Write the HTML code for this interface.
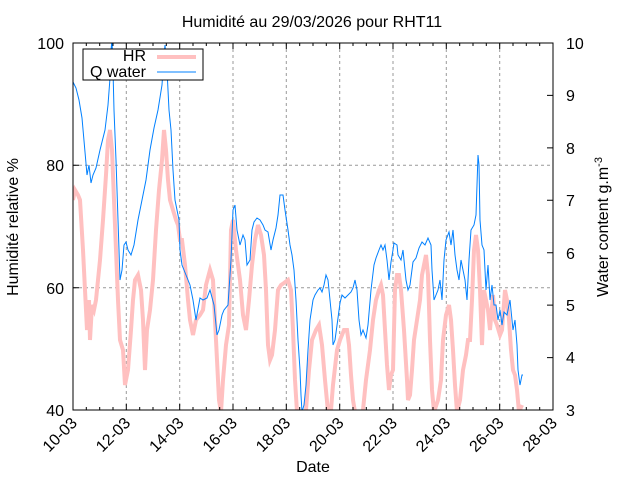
<!DOCTYPE html>
<html><head><meta charset="utf-8"><style>
body{margin:0;background:#fff}
svg{display:block}
text{font-family:"Liberation Sans",sans-serif;font-size:16px;fill:#000}
</style></head><body>
<svg width="640" height="480" viewBox="0 0 640 480">
<defs><clipPath id="c"><rect x="73" y="43" width="480" height="367"/></clipPath></defs>
<g stroke="#999" stroke-dasharray="3,3" stroke-width="1">
<line x1="126.3" y1="43" x2="126.3" y2="410"/><line x1="179.7" y1="43" x2="179.7" y2="410"/><line x1="233" y1="43" x2="233" y2="410"/><line x1="286.3" y1="43" x2="286.3" y2="410"/><line x1="339.7" y1="43" x2="339.7" y2="410"/><line x1="393" y1="43" x2="393" y2="410"/><line x1="446.3" y1="43" x2="446.3" y2="410"/><line x1="499.7" y1="43" x2="499.7" y2="410"/>
<line x1="73" y1="165.3" x2="553" y2="165.3"/><line x1="73" y1="287.7" x2="553" y2="287.7"/>
</g>
<g clip-path="url(#c)" fill="none" stroke-linejoin="miter">
<polyline stroke="#ffc0c0" stroke-width="4" points="73,200 75,190 78,195 80,200 83,250 85,290 87,330 89,300 90,340 92,305 94,310 96,300 98,280 100,260 103,220 106,175 108,140 110,130 112,150 114,200 116,250 118,300 120,340 123,350 125,385 128,370 131,330 133,300 135,280 138,275 141,290 143,320 145,370 147,330 150,310 153,280 156,230 159,190 162,160 164,130 166,150 168,180 170,200 173,210 176,220 178,225 180,240 182,240 185,265 188,300 190,320 193,335 196,320 200,315 203,310 206,285 210,270 213,280 215,320 217,360 219,400 221,412 223,380 226,345 229,325 231,230 233,220 236,250 240,280 243,315 246,330 249,300 252,265 255,240 258,225 261,235 264,255 266,290 268,345 270,360 272,355 275,330 278,290 281,285 284,283 288,280 291,290 293,330 295,380 297,412 303,415 306,410 309,370 312,340 316,330 319,325 322,345 325,380 328,412 331,410 333,385 337,350 340,340 344,330 347,330 349,345 351,375 353,400 355,412 360,415 363,410 366,380 370,350 373,320 376,300 379,290 381,285 383,295 385,330 387,365 389,390 391,375 393,370 395,290 397,275 399,275 401,290 404,330 407,380 408,400 410,395 412,370 414,340 417,320 420,300 422,275 424,265 426,255 428,275 430,340 432,390 434,412 438,400 441,380 443,340 446,315 449,305 451,320 453,350 455,385 457,412 460,400 463,370 466,355 468,340 470,340 472,300 474,250 476,235 478,250 480,290 482,345 484,290 486,300 488,310 490,330 493,295 495,320 497,325 500,335 502,330 505,290 507,300 509,320 511,350 513,370 515,375 517,390 519,412 522,405"/>
<polyline stroke="#0080ff" stroke-width="1" points="73,82 76,88 79,100 82,118 85,152 87,175 89,165 91,183 93,175 96,168 100,150 105,130 108,105 110,78 111,50 112,40 113,70 114,110 116,160 118,220 120,280 122,270 124,245 126,242 128,250 131,255 134,245 138,220 142,200 146,180 150,150 154,128 158,110 162,85 164,55 165,45 167,70 169,110 171,130 173,170 175,200 177,210 179,220 180,250 182,265 186,275 190,285 193,300 196,320 200,298 203,300 207,298 210,290 214,305 217,335 219,330 222,315 224,310 228,305 231,260 233,210 235,205 237,230 240,245 243,235 245,240 247,265 250,260 252,230 254,222 257,218 260,220 263,225 265,230 268,232 271,250 273,240 276,228 278,215 280,195 283,195 285,210 288,230 290,245 292,255 294,270 296,300 298,340 300,370 301,395 302,412 304,405 306,385 308,350 310,320 313,300 315,295 318,290 320,288 322,292 324,285 326,275 328,280 330,300 332,320 333,345 335,340 338,318 340,303 342,295 345,298 348,295 351,292 353,288 355,280 357,290 359,320 361,335 363,330 366,338 368,325 371,290 374,265 376,258 379,250 381,245 383,250 385,245 387,260 389,280 391,262 393,250 394,243 397,245 398,255 401,260 403,250 406,280 408,290 410,285 413,262 416,258 419,248 422,242 425,245 428,238 431,245 432,270 434,300 436,295 438,290 440,280 442,300 444,260 446,240 449,232 451,245 453,230 455,255 457,270 459,280 461,260 463,270 465,280 467,300 469,260 471,230 474,225 476,215 477,185 478,155 479,165 480,220 482,245 484,250 486,290 488,265 490,300 492,285 494,305 496,305 498,320 500,310 502,325 504,312 507,315 510,300 513,330 515,320 517,345 518,370 520,385 522,375 523,375"/>
</g>
<rect x="73" y="43" width="480" height="367" fill="none" stroke="#000" stroke-width="1"/>
<g stroke="#000">
<path d="M73,43v367M126.3,43v6M179.7,43v6M233,43v6M286.3,43v6M339.7,43v6M393,43v6M446.3,43v6M499.7,43v6M126.3,410v-6M179.7,410v-6M233,410v-6M286.3,410v-6M339.7,410v-6M393,410v-6M446.3,410v-6M499.7,410v-6"/>
<path d="M86.3,43v3M99.7,43v3M113,43v3M139.7,43v3M153,43v3M166.3,43v3M193,43v3M206.3,43v3M219.7,43v3M246.3,43v3M259.7,43v3M273,43v3M299.7,43v3M313,43v3M326.3,43v3M353,43v3M366.3,43v3M379.7,43v3M406.3,43v3M419.7,43v3M433,43v3M459.7,43v3M473,43v3M486.3,43v3M513,43v3M526.3,43v3M539.7,43v3"/>
<path d="M86.3,410v-3M99.7,410v-3M113,410v-3M139.7,410v-3M153,410v-3M166.3,410v-3M193,410v-3M206.3,410v-3M219.7,410v-3M246.3,410v-3M259.7,410v-3M273,410v-3M299.7,410v-3M313,410v-3M326.3,410v-3M353,410v-3M366.3,410v-3M379.7,410v-3M406.3,410v-3M419.7,410v-3M433,410v-3M459.7,410v-3M473,410v-3M486.3,410v-3M513,410v-3M526.3,410v-3M539.7,410v-3"/>
<path d="M73,165.3h6M73,287.7h6M553,95.4h-6M553,147.9h-6M553,200.3h-6M553,252.7h-6M553,305.1h-6M553,357.6h-6"/>
</g>
<text x="312" y="27" text-anchor="middle">Humidité au 29/03/2026 pour RHT11</text>
<g text-anchor="end"><text x="64" y="49">100</text><text x="64" y="171">80</text><text x="64" y="294">60</text><text x="64" y="416">40</text></g>
<g text-anchor="start"><text x="566" y="49">10</text><text x="566" y="101">9</text><text x="566" y="154">8</text><text x="566" y="206">7</text><text x="566" y="259">6</text><text x="566" y="311">5</text><text x="566" y="363">4</text><text x="566" y="416">3</text></g>
<g text-anchor="end">
<text transform="translate(78,424) rotate(-45)">10-03</text><text transform="translate(131.3,424) rotate(-45)">12-03</text><text transform="translate(184.7,424) rotate(-45)">14-03</text><text transform="translate(238,424) rotate(-45)">16-03</text><text transform="translate(291.3,424) rotate(-45)">18-03</text><text transform="translate(344.7,424) rotate(-45)">20-03</text><text transform="translate(398,424) rotate(-45)">22-03</text><text transform="translate(451.3,424) rotate(-45)">24-03</text><text transform="translate(504.7,424) rotate(-45)">26-03</text><text transform="translate(558,424) rotate(-45)">28-03</text>
</g>
<text x="313" y="472" text-anchor="middle">Date</text>
<text transform="translate(18,227) rotate(-90)" text-anchor="middle">Humidité relative %</text>
<text transform="translate(608,227) rotate(-90)" text-anchor="middle">Water content g.m<tspan dy="-6" font-size="11">-3</tspan></text>
<rect x="83" y="49" width="120" height="31" fill="#fff" stroke="#000"/>
<text x="146" y="61" text-anchor="end">HR</text>
<line x1="157" y1="57" x2="196" y2="57" stroke="#ffc0c0" stroke-width="4"/>
<text x="146" y="77" text-anchor="end">Q water</text>
<line x1="157" y1="72" x2="196" y2="72" stroke="#0080ff" stroke-width="1"/>
</svg>
</body></html>
